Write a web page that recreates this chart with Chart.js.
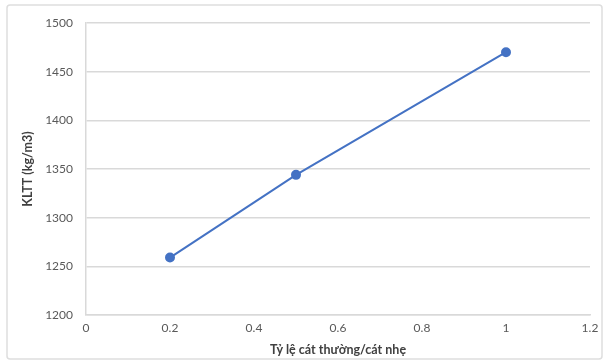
<!DOCTYPE html>
<html>
<head>
<meta charset="utf-8">
<script src="https://cdn.jsdelivr.net/npm/chart.js@4/dist/chart.umd.min.js"></script>
<style>
  html, body { margin: 0; padding: 0; background: #ffffff; }
  #wrap { width: 606px; height: 362px; position: relative; }
</style>
</head>
<body>
<div id="wrap"><canvas id="c" width="606" height="362"></canvas></div>
<script>
// Sand ratio (normal/light) vs. unit weight
const ratios = [0.2, 0.5, 1];
const unitWeights = [1259, 1344, 1470];
const xTicks = [0, 0.2, 0.4, 0.6, 0.8, 1, 1.2];
const yTicks = [1200, 1250, 1300, 1350, 1400, 1450, 1500];

const points = ratios.map((r, i) => ({ x: r, y: unitWeights[i] }));

// Light frame around the whole chart
const framePlugin = {
  id: 'frame',
  beforeDraw(chart) {
    const ctx = chart.ctx;
    ctx.save();
    ctx.fillStyle = '#ffffff';
    ctx.fillRect(0, 0, chart.width, chart.height);
    ctx.strokeStyle = '#dedede';
    ctx.lineWidth = 1.5;
    ctx.beginPath();
    ctx.roundRect(7, 5, 595, 354, 3);
    ctx.stroke();
    ctx.restore();
  }
};

const tickFont = { family: 'Lato, "Open Sans", sans-serif', size: 12 };
const titleFont = { family: 'Lato, "Open Sans", sans-serif', size: 12.5, weight: 'bold' };

new Chart(document.getElementById('c'), {
  type: 'scatter',
  data: {
    datasets: [{
      data: points,
      showLine: true,
      borderColor: '#4472c4',
      backgroundColor: '#4472c4',
      borderWidth: 2,
      pointRadius: 4,
      pointHoverRadius: 4
    }]
  },
  options: {
    responsive: false,
    animation: false,
    layout: { padding: { left: 20, right: 16, top: 23, bottom: 5 } },
    plugins: { legend: { display: false }, tooltip: { enabled: false } },
    scales: {
      x: {
        type: 'linear',
        min: xTicks[0],
        max: xTicks[xTicks.length - 1],
        afterBuildTicks(scale) { scale.ticks = xTicks.map(v => ({ value: v })); },
        afterFit(scale) { scale.height = 42; },
        grid: { display: false, drawTicks: false },
        border: { display: true, color: '#d9d9d9', width: 1.5 },
        ticks: { color: '#595959', font: tickFont, padding: 6, maxRotation: 0,
                 callback: v => String(v) },
        title: { display: true, text: 'Tỷ lệ cát thường/cát nhẹ', color: '#404040',
                 font: titleFont, padding: { top: 0, bottom: 0 } }
      },
      y: {
        type: 'linear',
        min: yTicks[0],
        max: yTicks[yTicks.length - 1],
        afterBuildTicks(scale) { scale.ticks = yTicks.map(v => ({ value: v })); },
        afterFit(scale) { scale.width = 66; },
        grid: { color: '#d9d9d9', lineWidth: 1.5, drawTicks: false },
        border: { display: true, color: '#d9d9d9', width: 1.5 },
        ticks: { color: '#595959', font: tickFont, padding: 13,
                 callback: v => String(v) },
        title: { display: true, text: 'KLTT (kg/m3)', color: '#404040',
                 font: titleFont, padding: { top: 0, bottom: 4 } }
      }
    }
  },
  plugins: [framePlugin]
});
</script>
</body>
</html>
